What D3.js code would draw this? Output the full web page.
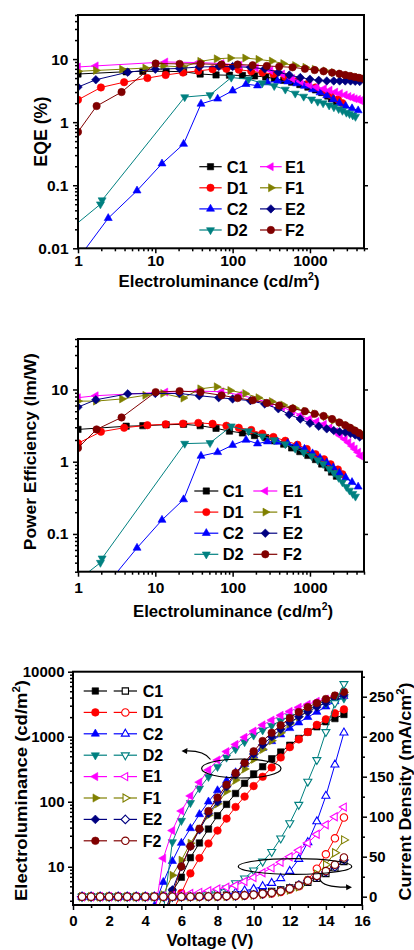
<!DOCTYPE html>
<html><head><meta charset="utf-8">
<script src="https://cdn.jsdelivr.net/npm/d3@7"></script>
<style>
body{margin:0;background:#fff}
svg{display:block;background:#fff}
text{font-family:Arial,"Liberation Sans",Helvetica,sans-serif;font-weight:bold;fill:#000}
</style>
</head><body>
<svg id="c" width="414" height="950"></svg>
<script>
// ---------------- DATA ----------------
const seriesNames  = ["C1","D1","C2","D2","E1","F1","E2","F2"];
const seriesColors = ["#000000","#ff0000","#0000ff","#008080","#ff00ff","#808000","#000080","#800000"];
const seriesShapes = ["square","circle","triUp","triDown","triLeft","triRight","diamond","circle"];

// voltage grid (V) for the current-density curves
const voltages = [0.5,1,1.5,2,2.5,3,3.5,4,4.5,5,5.5,6,6.5,7,7.5,8,8.5,9,9.5,10,10.5,11,11.5,12,12.5,13,13.5,14,14.5,15];
// voltage at which each luminance record starts (then every 0.5 V)
const lumStartV = [5,5,4,4,4,4,4.5,4.5];

// Electroluminance (cd/m2)
const lumC1 = [1.0,4.2,6.9,13.8,23.2,38,61,91,134,192,268,346,458,580,740,940,1180,1420,1700,1900,2200];
const lumD1 = [1.0,1.98,3.95,7.9,13.6,22.8,36,55,83,120,174,242,337,480,690,910,1180,1520,1850,2300,2630];
const lumC2 = [1.0,2.46,5.8,12.2,23.2,39,64,100,149,210,282,380,515,670,850,1080,1350,1650,2000,2400,2900,3500,4200];
const lumD2 = [0.7,1.95,2.05,24,51,96,161,242,345,480,645,830,1050,1260,1480,1770,2040,2350,2630,2960,3250,3580,3880];
const lumE1 = [1.0,1.7,13.5,36,72,123,200,308,438,590,760,980,1220,1520,1800,2130,2450,2830,3150,3500,3800,4200,4500];
const lumF1 = [1.0,1.7,3.7,7.4,12.6,23,38,62,93,145,215,320,450,640,870,1150,1580,2030,2500,3100,3650,4200,4800];
const lumE2 = [1.0,1.7,4.4,10,20.5,37,66,100,170,260,390,540,750,1000,1300,1650,2030,2420,2860,3350,3850,4400];
const lumF2 = [1.0,1.74,3.66,10.1,20.6,38.5,72,116,182,277,400,595,860,1150,1500,1930,2400,2850,3300,3800,4300,4900];

// EQE (%) at the same points
const eqeC1 = [5.8,6.3,6.4,6.4,6.3,5.8,5.6,5.55,5.5,5.4,5.2,4.9,4.6,4.3,3.95,3.6,3.25,2.95,2.6,2.35,2.1];
const eqeD1 = [2.26,3.55,4.3,5.0,5.6,6.1,6.5,6.9,7.0,6.8,6.4,6.1,5.8,5.2,4.5,4.0,3.55,3.05,2.7,2.3,2.0];
const eqeC2 = [0.0068,0.03,0.082,0.22,0.45,1.95,2.35,3.15,4.0,3.8,4.25,4.5,4.4,4.1,3.75,3.3,2.95,2.65,2.3,2.0,1.8,1.65,1.53];
const eqeD2 = [0.0178,0.05,0.058,2.5,2.7,5.1,4.8,4.15,3.75,3.3,2.85,2.55,2.3,2.12,2.0,1.85,1.73,1.62,1.52,1.42,1.35,1.28,1.22];
const eqeE1 = [7.5,7.8,9.0,8.8,8.5,8.0,7.3,6.6,5.8,4.9,4.4,3.9,3.6,3.4,3.2,3.0,2.85,2.7,2.55,2.45,2.35,2.3,2.2];
const eqeF1 = [6.4,6.6,6.9,7.2,7.8,7.5,9.2,10.1,10.4,10.4,9.9,9.3,8.5,7.9,7.4,6.9,6.5,6.1,5.8,5.5,5.3,5.1,4.9];
const eqeE2 = [3.6,4.7,6.2,6.9,7.1,7.5,7.6,7.6,7.4,7.0,6.2,5.6,5.1,4.8,4.6,4.5,4.5,4.5,4.5,4.5,4.45,4.4];
const eqeF2 = [0.7,1.8,3.0,8.5,8.4,8.4,8.2,8.2,8.0,7.8,7.6,7.4,7.0,6.7,6.4,6.1,5.85,5.6,5.4,5.2,5.05,4.9];

// Power efficiency (lm/W) at the same points
const peC1 = [2.8,3.1,3.15,3.25,3.3,3.15,2.9,2.65,2.5,2.3,2.15,1.95,1.75,1.55,1.38,1.22,1.07,0.93,0.82,0.72,0.63];
const peD1 = [1.8,2.6,2.95,3.2,3.3,3.37,3.45,3.35,3.15,2.95,2.75,2.45,2.2,1.95,1.72,1.5,1.27,1.08,0.92,0.78,0.67];
const peC2 = [0.006,0.021,0.064,0.156,0.30,1.2,1.35,1.7,2.0,1.78,1.9,1.88,1.8,1.66,1.5,1.3,1.12,0.97,0.83,0.7,0.6,0.52,0.45];
const peD2 = [0.017,0.04,0.046,1.78,1.82,3.1,2.65,2.25,2.0,1.75,1.52,1.35,1.2,1.05,0.93,0.8,0.7,0.6,0.52,0.45,0.4,0.36,0.33];
const peE1 = [7.7,8.2,9.2,9.5,9.3,8.4,7.4,6.5,5.7,5.0,4.4,3.9,3.6,3.3,2.95,2.6,2.3,2.05,1.85,1.65,1.5,1.35,1.2];
const peF1 = [6.9,6.9,7.4,8.3,8.8,7.6,10.2,10.9,9.7,8.8,7.7,6.8,6.1,5.5,5.0,4.6,4.2,3.75,3.45,3.15,2.85,2.6,2.4];
const peE2 = [5.7,7.2,8.7,8.8,8.8,8.2,7.7,7.4,7.0,6.3,5.4,4.5,3.9,3.4,3.1,2.85,2.7,2.6,2.55,2.45,2.35,2.2];
const peF2 = [1.55,2.8,4.1,9.2,9.5,9.2,8.3,7.6,7.1,6.5,6.0,5.45,5.0,4.6,4.3,3.9,3.5,3.2,2.95,2.7,2.5,2.3];

// Current density (mA/cm2) at each voltage
const jC1 = [0,0,0,0,0,0,0,0,0,0,0,0.1,0.3,0.6,1,1.4,2,2.6,3.3,4.2,5.3,6.7,8.5,11,14,18,23,29,36,44];
const jD1 = [0,0,0,0,0,0,0,0,0,0,0,0,0,0,0.1,0.3,0.5,0.8,1.2,2,3,4,6,9,13,21,35,53,73,99];
const jC2 = [0,0,0,0,0,0,0,0,0,0,0,0,0.1,0.4,1.2,2,3.3,5,7.5,9.6,13,17,23,32,47,68,94,126,165,205];
const jD2 = [0,0,0,0,0,0,0,0,0,0,0,0.1,0.5,1.7,3.3,6,10.5,17,23,33,44,56,73,92,115,144,171,206,242,266];
const jE1 = [0,0,0,0,0,0,0,0,0,0.5,1.5,3,4,5.4,7.5,9.6,11.7,14,19,24,30,36,43,50,58,67,78,90,100,112];
const jF1 = [0,0,0,0,0,0,0,0,0,0,0,0,0,0,0.1,0.3,0.5,0.8,1.2,2,3,4.2,5.8,8.3,12.5,20,28,40,55,71];
const jE2 = [0,0,0,0,0,0,0,0,0,0,0,0,0,0,0.1,0.4,0.6,1,1.6,2.4,3.5,5,7.5,10.4,14.6,20,25,31,37.5,46];
const jF2 = [0,0,0,0,0,0,0,0,0,0,0,0,0,0.1,0.3,0.5,0.8,1.2,1.7,2.5,3.7,5,6.7,10,14,20,26,32,40,49];

// tick labels
const lumTicks  = [1,10,100,1000];
const eqeTicks  = [0.01,0.1,1,10];
const peTicks   = [0.1,1,10];
const voltTicks = [0,2,4,6,8,10,12,14,16];
const lvTicks   = [10,100,1000,10000];
const jTicks    = [0,50,100,150,200,250];

const lumAll = [lumC1,lumD1,lumC2,lumD2,lumE1,lumF1,lumE2,lumF2];
const eqeAll = [eqeC1,eqeD1,eqeC2,eqeD2,eqeE1,eqeF1,eqeE2,eqeF2];
const peAll  = [peC1,peD1,peC2,peD2,peE1,peF1,peE2,peF2];
const jAll   = [jC1,jD1,jC2,jD2,jE1,jF1,jE2,jF2];

// ---------------- DRAWING ----------------
const svg = d3.select("#c");
const FONT = 'Arial, "Liberation Sans", Helvetica, sans-serif';

function markerPath(shape, s) {
  const r = s;
  switch (shape) {
    case "square": { const h = r*0.85; return `M${-h},${-h}H${h}V${h}H${-h}Z`; }
    case "circle": return `M${r},0A${r},${r} 0 1,1 ${-r},0A${r},${r} 0 1,1 ${r},0Z`;
    case "diamond": { const d = r*1.15; return `M0,${-d}L${d},0L0,${d}L${-d},0Z`; }
    default: {
      const R = r*1.25, a = R*0.866, b = R*0.5;
      if (shape === "triUp")    return `M0,${-R}L${a},${b}L${-a},${b}Z`;
      if (shape === "triDown")  return `M0,${R}L${a},${-b}L${-a},${-b}Z`;
      if (shape === "triLeft")  return `M${-R},0L${b},${-a}L${b},${a}Z`;
      return `M${R},0L${-b},${-a}L${-b},${a}Z`;
    }
  }
}

function addClip(id, x0, y0, x1, y1) {
  svg.append("clipPath").attr("id", id).append("rect")
    .attr("x", x0).attr("y", y0).attr("width", x1-x0).attr("height", y1-y0);
}

function styleAxis(g, fs) {
  g.attr("font-family", FONT).attr("font-size", fs).attr("font-weight", "bold");
  g.select(".domain").remove();
  g.selectAll(".tick line").attr("stroke", "#000").attr("stroke-width", 1.5);
  g.selectAll(".tick text").attr("fill", "#000");
}

function splitTicks(scale, majors) {
  return scale.ticks().filter(v => !majors.some(m => Math.abs(v - m) / Math.abs(m || 1) < 1e-6));
}

function drawSeries(g, x, y, xs, ys, i, hollow, r) {
  const pts = xs.map((v, k) => [v, ys[k]]);
  const line = d3.line().x(d => x(d[0])).y(d => y(d[1]));
  g.append("path").attr("d", line(pts)).attr("fill", "none")
    .attr("stroke", seriesColors[i]).attr("stroke-width", 1);
  g.selectAll(null).data(pts).enter().append("path")
    .attr("transform", d => `translate(${x(d[0])},${y(d[1])})`)
    .attr("d", markerPath(seriesShapes[i], r))
    .attr("fill", hollow ? "#fff" : seriesColors[i])
    .attr("stroke", seriesColors[i]).attr("stroke-width", hollow ? 1.1 : 0.6);
}

function legendItem(g, x0, x1, cy, i, hollow, r) {
  g.append("line").attr("x1", x0).attr("x2", x1).attr("y1", cy).attr("y2", cy)
    .attr("stroke", seriesColors[i]).attr("stroke-width", 1.2);
  g.append("path").attr("transform", `translate(${(x0+x1)/2},${cy})`)
    .attr("d", markerPath(seriesShapes[i], r))
    .attr("fill", hollow ? "#fff" : seriesColors[i])
    .attr("stroke", seriesColors[i]).attr("stroke-width", hollow ? 1.1 : 0.6);
}

function title(x, y, rot, txt, sup, fs, len, after) {
  const t = svg.append("text").attr("font-size", fs).attr("text-anchor", "middle")
    .attr("transform", `translate(${x},${y}) rotate(${rot})`);
  t.append("tspan").text(txt);
  if (sup) {
    t.append("tspan").attr("dy", -fs*0.4).attr("font-size", fs*0.62).text(sup);
    t.append("tspan").attr("dy", fs*0.4).text(after);
  }
  if (len) t.attr("textLength", len).attr("lengthAdjust", "spacingAndGlyphs");
  return t;
}

function fmtNum(v) { return String(v); }

// ---------- log panels (EQE and PE) ----------
function logPanel(cfg) {
  const {L, R, T, B, yDom, yVals, yTicks, clipId, xPad, legendRows, col1, col2} = cfg;
  const x = d3.scaleLog().domain([1, 5000]).range([L, R]);
  const y = d3.scaleLog().domain(yDom).range([B, T]);
  addClip(clipId, L, T, R, B);
  const g = svg.append("g").attr("clip-path", `url(#${clipId})`);
  for (let i = 0; i < 8; i++) drawSeries(g, x, y, lumAll[i], yVals[i], i, false, 3.7);

  // axes
  const ax1 = svg.append("g").attr("transform", `translate(${L},0)`);
  ax1.call(d3.axisLeft(y).tickValues(splitTicks(y, yTicks)).tickSize(3).tickFormat(""));
  styleAxis(ax1, 15);
  const ax2 = svg.append("g").attr("transform", `translate(${L},0)`);
  ax2.call(d3.axisLeft(y).tickValues(yTicks).tickSize(5).tickPadding(4.5).tickFormat(fmtNum));
  styleAxis(ax2, 15.5);
  const axR = svg.append("g").attr("transform", `translate(${R},0)`);
  axR.call(d3.axisRight(y).tickValues(yTicks).tickSize(4).tickFormat(""));
  styleAxis(axR, 15);
  const bx1 = svg.append("g").attr("transform", `translate(0,${B})`);
  bx1.call(d3.axisBottom(x).tickValues(splitTicks(x, lumTicks)).tickSize(3).tickFormat(""));
  styleAxis(bx1, 15);
  const bx2 = svg.append("g").attr("transform", `translate(0,${B})`);
  bx2.call(d3.axisBottom(x).tickValues(lumTicks).tickSize(5).tickPadding(xPad).tickFormat(fmtNum));
  styleAxis(bx2, 15.5);

  svg.append("rect").attr("x", L).attr("y", T).attr("width", R-L).attr("height", B-T)
    .attr("fill", "none").attr("stroke", "#000").attr("stroke-width", 2);

  // legend
  const lg = svg.append("g");
  for (let k = 0; k < 4; k++) {
    const cy = legendRows[k];
    legendItem(lg, col1[0], col1[1], cy, k, false, 3.7);
    lg.append("text").attr("x", col1[2]).attr("y", cy + 6).attr("font-size", 16.5).text(seriesNames[k]);
    legendItem(lg, col2[0], col2[1], cy, k+4, false, 3.7);
    lg.append("text").attr("x", col2[2]).attr("y", cy + 6).attr("font-size", 16.5).text(seriesNames[k+4]);
  }
}

// Panel 1: EQE
logPanel({L:78, R:364, T:15, B:248.3, yDom:[0.01,50], yVals:eqeAll, yTicks:eqeTicks, clipId:"cp1", xPad:1.5,
  legendRows:[166.7,187.8,208.9,230], col1:[199.3,221.7,226.7], col2:[260,281.7,285]});
title(46.5, 131.7, -90, "EQE (%)", null, 17.5, 70);
title(219, 286.7, 0, "Electroluminance (cd/m", "2", 16.5, 201, ")");

// Panel 2: Power efficiency
logPanel({L:78, R:364, T:339, B:571.7, yDom:[0.03,50], yVals:peAll, yTicks:peTicks, clipId:"cp2", xPad:5,
  legendRows:[491,512.1,533.2,554.3], col1:[194.3,218.3,222.7], col2:[253.3,277.3,282.7]});
title(36, 451.7, -90, "Power Efficiency (lm/W)", null, 17, 197);
title(233, 616.7, 0, "Electroluminance (cd/m", "2", 16.5, 200, ")");

// ---------- Panel 3: L-J-V ----------
(function () {
  const L = 73, R = 362, T = 671.7, B = 905;
  const x = d3.scaleLinear().domain([0, 16]).range([L, R]);
  const yL = d3.scaleLog().domain([2.58, 10000]).range([B, T]);
  const yJ = d3.scaleLinear().domain([-10.4, 281.25]).range([B, T]);
  addClip("cp3", L, T, R, B);
  const g = svg.append("g").attr("clip-path", "url(#cp3)");
  for (let i = 0; i < 8; i++) {
    const vs = lumAll[i].map((_, k) => lumStartV[i] + 0.5*k);
    drawSeries(g, x, yL, vs, lumAll[i], i, false, 3.8);
  }
  for (let i = 0; i < 8; i++) drawSeries(g, x, yJ, voltages, jAll[i], i, true, 3.7);

  // ellipses and arrows
  const ann = svg.append("g").attr("fill", "none").attr("stroke", "#000").attr("stroke-width", 1.2);
  ann.append("ellipse").attr("cx", 241.3).attr("cy", 768.5).attr("rx", 39.7).attr("ry", 9.5);
  ann.append("ellipse").attr("cx", 295).attr("cy", 866.5).attr("rx", 56.7).attr("ry", 7.8);
  ann.append("path").attr("d", "M210.5,759.5 Q204,750.5 186,751");
  ann.append("path").attr("d", "M320,879.5 Q323,887.5 347.5,887.2");
  svg.append("path").attr("d", "M181.5,751 L187.5,748 L187,754 Z").attr("fill", "#000");
  svg.append("path").attr("d", "M352,887.2 L346,884.2 L346.3,890.2 Z").attr("fill", "#000");

  // axes
  const a1 = svg.append("g").attr("transform", `translate(${L},0)`);
  a1.call(d3.axisLeft(yL).tickValues(splitTicks(yL, lvTicks)).tickSize(3).tickFormat(""));
  styleAxis(a1, 14);
  const a2 = svg.append("g").attr("transform", `translate(${L},0)`);
  a2.call(d3.axisLeft(yL).tickValues(lvTicks).tickSize(5).tickPadding(3.5).tickFormat(fmtNum));
  styleAxis(a2, 15);
  const r1 = svg.append("g").attr("transform", `translate(${R},0)`);
  r1.call(d3.axisRight(yJ).tickValues([25,75,125,175,225,275]).tickSize(3).tickFormat(""));
  styleAxis(r1, 14);
  const r2 = svg.append("g").attr("transform", `translate(${R},0)`);
  r2.call(d3.axisRight(yJ).tickValues(jTicks).tickSize(5).tickPadding(2).tickFormat(fmtNum));
  styleAxis(r2, 15);
  const b1 = svg.append("g").attr("transform", `translate(0,${B})`);
  b1.call(d3.axisBottom(x).tickValues([1,3,5,7,9,11,13,15]).tickSize(3).tickFormat(""));
  styleAxis(b1, 14);
  const b2 = svg.append("g").attr("transform", `translate(0,${B})`);
  b2.call(d3.axisBottom(x).tickValues(voltTicks).tickSize(5).tickPadding(5).tickFormat(fmtNum));
  styleAxis(b2, 15);

  svg.append("rect").attr("x", L).attr("y", T).attr("width", R-L).attr("height", B-T)
    .attr("fill", "none").attr("stroke", "#000").attr("stroke-width", 2);

  // legend
  const lg = svg.append("g");
  for (let k = 0; k < 8; k++) {
    const cy = 691 + k*21.4;
    legendItem(lg, 83.7, 107, cy, k, false, 3.8);
    legendItem(lg, 113.7, 137, cy, k, true, 3.7);
    lg.append("text").attr("x", 142.7).attr("y", cy + 5.7).attr("font-size", 16).text(seriesNames[k]);
  }

  title(27, 790.5, -90, "Electroluminance (cd/m", "2", 17, 221, ")");
  title(411, 791.5, -90, "Current Density (mA/cm", "2", 17, 218, ")");
  title(210, 945.5, 0, "Voltage (V)", null, 16.5, 87);
})();
</script>
</body></html>
